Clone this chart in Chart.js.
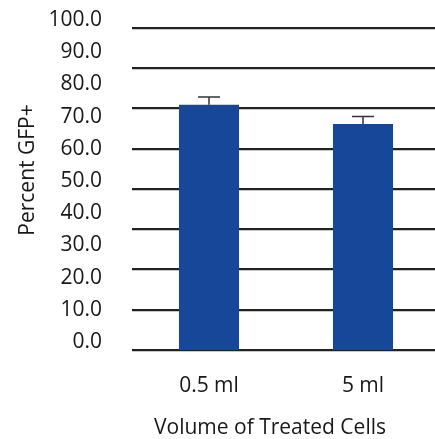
<!DOCTYPE html>
<html lang="en">
<head>
    <meta charset="UTF-8">
    <title>Percent GFP+</title>
    <script src="https://cdn.jsdelivr.net/npm/chart.js"></script>
    <style>
        html, body { margin: 0; padding: 0; background: #fff; overflow: hidden; }
        .contenedor { width: 440px; height: 439px; }
    </style>
</head>
<body>
    <div class="contenedor">
        <canvas id="grafico" width="440" height="439"></canvas>
    </div>

    <script>
        const categorias = ["0.5 ml", "5 ml"];
        const valores = [76.2, 70.2];
        const errores = [2.4, 2.3];
        const ticksY = [0, 10, 20, 30, 40, 50, 60, 70, 80, 90, 100];
        const lineasGuia = [0, 12.5, 25, 37.5, 50, 62.5, 75, 87.5, 100];

        const fuente = "'Open Sans', sans-serif";
        const colorTexto = '#1a1718';

        // barras de error + titulos de ejes
        const extras = {
            id: 'extras',
            afterDatasetsDraw(chart) {
                const ctx = chart.ctx;
                const x = chart.scales.x, y = chart.scales.y;
                ctx.save();
                ctx.strokeStyle = '#333';
                ctx.lineWidth = 1.5;
                valores.forEach((v, i) => {
                    const px = x.getPixelForValue(i);
                    const top = y.getPixelForValue(v + errores[i]);
                    const base = y.getPixelForValue(v);
                    ctx.beginPath();
                    ctx.moveTo(px, base);
                    ctx.lineTo(px, top);
                    ctx.moveTo(px - 11, top);
                    ctx.lineTo(px + 11, top);
                    ctx.stroke();
                });
                ctx.fillStyle = colorTexto;
                ctx.font = "21px " + fuente;
                ctx.textAlign = 'center';
                ctx.textBaseline = 'middle';
                ctx.fillText('Volume of Treated Cells', 270, 428);
                ctx.translate(28, 170);
                ctx.rotate(-Math.PI / 2);
                ctx.fillText('Percent GFP+', 0, 0);
                ctx.restore();
            }
        };

        const sinRelleno = s => { s.paddingTop = 0; s.paddingBottom = 0; };

        new Chart(document.getElementById('grafico').getContext('2d'), {
            type: 'bar',
            data: {
                labels: categorias,
                datasets: [{
                    data: valores,
                    backgroundColor: '#174798',
                    barPercentage: 0.39,
                    categoryPercentage: 1
                }]
            },
            options: {
                responsive: false,
                animation: false,
                layout: { padding: { top: 28, right: 0, bottom: 0, left: 0 } },
                plugins: { legend: { display: false }, tooltip: { enabled: false } },
                scales: {
                    x: {
                        grid: { display: false },
                        border: { display: false },
                        ticks: { color: colorTexto, font: { family: fuente, size: 21 }, padding: 15 },
                        afterFit: s => { s.height = 89; }
                    },
                    y: {
                        min: 0, max: 100,
                        grid: { display: false },
                        border: { display: false },
                        afterBuildTicks: s => { s.ticks = ticksY.map(v => ({ value: v })); },
                        ticks: {
                            color: colorTexto,
                            font: { family: fuente, size: 21 },
                            padding: 22,
                            labelOffset: -8,
                            callback: v => v.toFixed(1)
                        },
                        afterFit: s => { s.width = 132; sinRelleno(s); }
                    },
                    y2: {
                        position: 'right',
                        min: 0, max: 100,
                        afterBuildTicks: s => { s.ticks = lineasGuia.map(v => ({ value: v })); },
                        grid: { color: '#222', lineWidth: 2.2, drawTicks: false },
                        border: { display: false },
                        ticks: { display: false },
                        afterFit: s => { s.width = 0; sinRelleno(s); }
                    }
                }
            },
            plugins: [extras]
        });
    </script>
</body>
</html>
